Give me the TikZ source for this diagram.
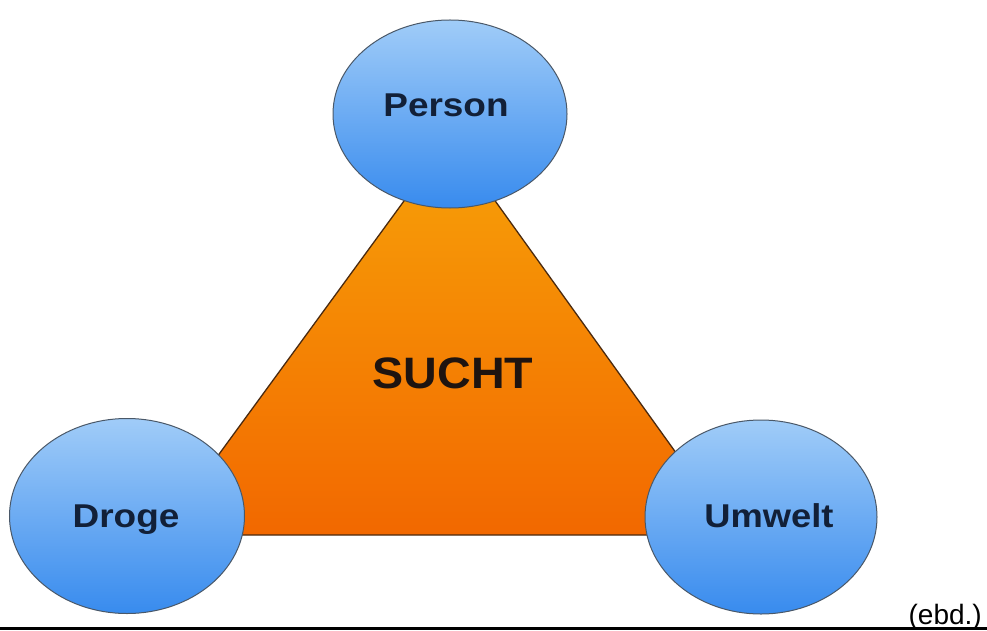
\documentclass[tikz,border=0pt]{standalone}
\usepackage{graphicx}
\usepackage{fontspec}
\setmainfont{Liberation Sans}
\usetikzlibrary{shapes.geometric}
\definecolor{txtnavy}{HTML}{122038}
\definecolor{txtdark}{HTML}{1E1410}
\definecolor{blueTop}{HTML}{A0CCF8}
\definecolor{blueBot}{HTML}{388BEE}
\definecolor{blueEdge}{HTML}{4A5868}
\definecolor{orTop}{HTML}{F7A208}
\definecolor{orBot}{HTML}{F26800}
\definecolor{orEdge}{HTML}{4A2A10}
\tikzset{
  bubble/.style={ellipse, draw=blueEdge, line width=1pt, top color=blueTop, bottom color=blueBot,
    inner sep=0pt},
  bubbletext/.style={anchor=base, inner sep=0pt, text=txtnavy,
    font=\fontsize{33}{36}\selectfont\bfseries},
  tri/.style={draw=orEdge, line width=1.3pt, top color=orTop, bottom color=orBot},
}
\begin{document}
\begin{tikzpicture}[x=1pt,y=-1pt]
\useasboundingbox[fill=white] (0,0) rectangle (987,631);
\coordinate (apex) at (450,138);
\coordinate (bl) at (160,535);
\coordinate (br) at (735,535);
\path[tri] (apex) -- (bl) -- (br) -- cycle;
\node[anchor=base, inner sep=0pt, text=txtdark, font=\fontsize{44}{48}\selectfont\bfseries] (sucht) at (453,388) {\scalebox{1.06}[1]{SUCHT}};
\node[bubble, minimum width=234pt, minimum height=188pt] (person) at (450,114) {};
\node[bubble, minimum width=235pt, minimum height=195pt] (droge) at (127,516) {};
\node[bubble, minimum width=232pt, minimum height=194pt] (umwelt) at (761,517) {};
\node[bubbletext] (personlabel) at (446,117) {\scalebox{1.12}[1]{Person}};
\node[bubbletext] (drogelabel) at (126,527) {\scalebox{1.12}[1]{Droge}};
\node[bubbletext] (umweltlabel) at (769,527) {\scalebox{1.1}[1]{Umwelt}};
\node[font=\fontsize{28}{30}\selectfont, anchor=base east, inner sep=0pt] (ebd) at (982,624) {(ebd.)};
\coordinate (lineL) at (0,628.5);
\coordinate (lineR) at (987,628.5);
\draw[line width=2.5pt] (lineL) -- (lineR);
\end{tikzpicture}
\end{document}
